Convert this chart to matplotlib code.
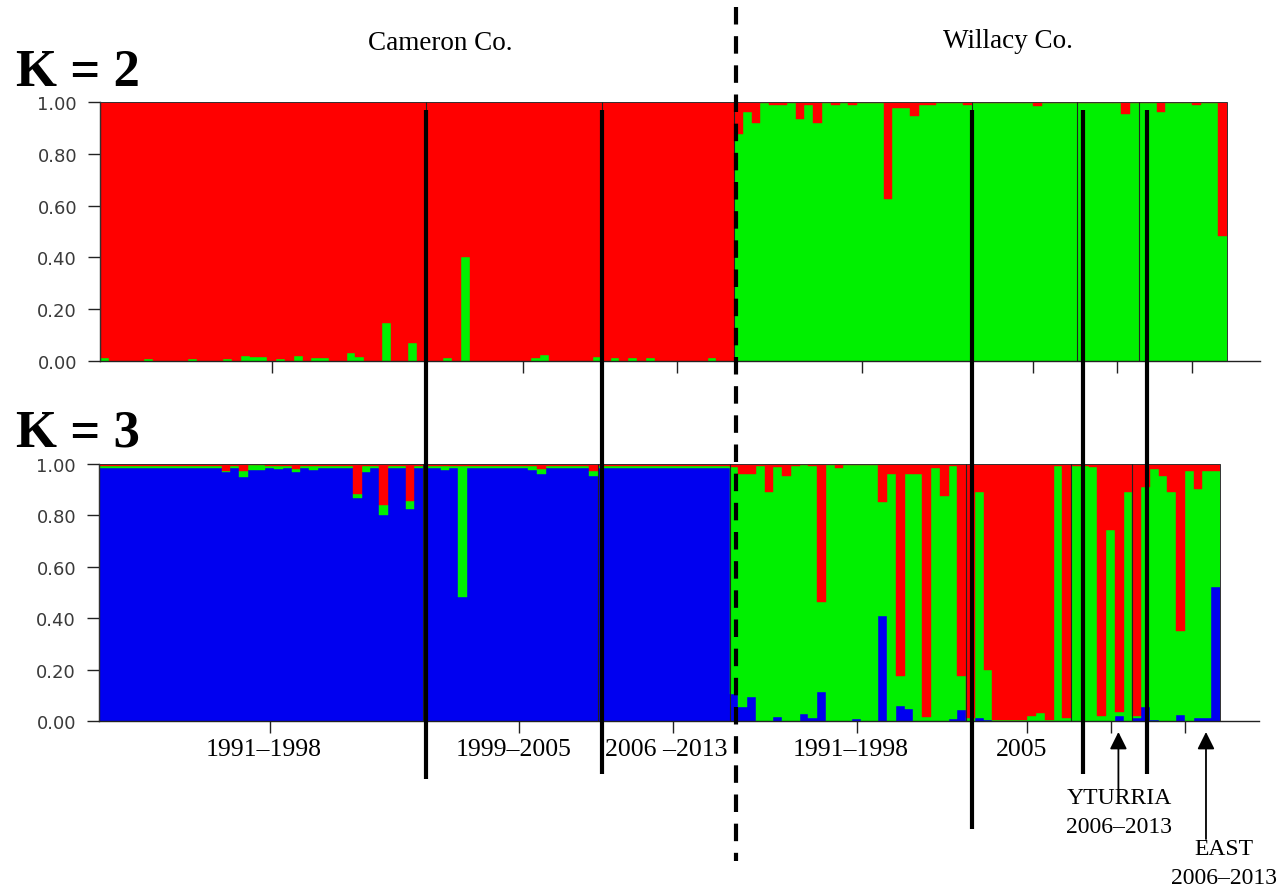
import numpy as np
import matplotlib

matplotlib.use("Agg")
import matplotlib.pyplot as plt
from matplotlib.lines import Line2D
from matplotlib.patches import Rectangle
from matplotlib.transforms import blended_transform_factory

RED = "#ff0000"
GREEN = "#00f000"
BLUE = "#0000f0"

GROUP_SIZES = [37, 20, 15, 27, 12, 7, 10]
GROUP_LABELS = [
    "1991\u20131998",
    "1999\u20132005",
    "2006 \u20132013",
    "1991\u20131998",
    "2005",
    "YTURRIA\n2006\u20132013",
    "EAST\n2006\u20132013",
]

# K = 2: membership in the "green" cluster (red = 1 - green)
k2_green_cam_91 = [0.010, 0, 0, 0, 0, 0.008, 0, 0, 0, 0, 0.008, 0, 0, 0, 0.008, 0,
                   0.020, 0.015, 0.015, 0, 0.008, 0, 0.020, 0, 0.010, 0.010, 0, 0,
                   0.030, 0.017, 0, 0, 0.146, 0, 0, 0.068, 0]
k2_green_cam_99 = [0, 0, 0.010, 0, 0.400, 0, 0, 0, 0, 0, 0, 0, 0.010, 0.025, 0, 0,
                   0, 0, 0, 0.015]
k2_green_cam_06 = [0, 0.010, 0, 0.010, 0, 0.010, 0, 0, 0, 0, 0, 0, 0.010, 0, 0]
k2_green_wil_91 = [0.876, 0.960, 0.920, 0.995, 0.990, 0.990, 0.995, 0.934, 0.988,
                   0.920, 0.995, 0.990, 0.995, 0.990, 0.997, 0.997, 0.997, 0.625,
                   0.976, 0.976, 0.947, 0.990, 0.990, 0.995, 0.995, 0.995, 0.990]
k2_green_wil_05 = [0.997, 0.995, 0.995, 0.997, 0.997, 0.995, 0.997, 0.983, 0.997,
                   0.995, 0.997, 0.997]
k2_green_yturria = [0.997, 0.997, 0.997, 0.995, 0.997, 0.954, 0.997]
k2_green_east = [0.997, 0.997, 0.960, 0.997, 0.997, 0.997, 0.990, 0.997, 0.997, 0.484]

# K = 3: blue and red memberships (green = remainder)
k3_blue_cam_91 = [0.983, 0.986, 0.986, 0.986, 0.986, 0.983, 0.986, 0.986, 0.986, 0.986,
                  0.983, 0.986, 0.986, 0.986, 0.970, 0.986, 0.948, 0.975, 0.975, 0.986,
                  0.980, 0.986, 0.967, 0.986, 0.978, 0.983, 0.986, 0.986, 0.986, 0.866,
                  0.968, 0.986, 0.800, 0.986, 0.986, 0.825, 0.986]
k3_red_cam_91 = [0.006, 0.006, 0.006, 0.006, 0.006, 0.006, 0.006, 0.006, 0.006, 0.006,
                 0.006, 0.006, 0.006, 0.006, 0.026, 0.006, 0.026, 0.005, 0.005, 0.006,
                 0.006, 0.006, 0.020, 0.006, 0.006, 0.006, 0.006, 0.006, 0.006, 0.117,
                 0.006, 0.006, 0.160, 0.006, 0.006, 0.143, 0.006]
k3_blue_cam_99 = [0.986, 0.986, 0.975, 0.986, 0.484, 0.986, 0.983, 0.986, 0.983, 0.986,
                  0.986, 0.986, 0.978, 0.960, 0.986, 0.983, 0.986, 0.986, 0.986, 0.955]
k3_red_cam_99 = [0.006, 0.006, 0.008, 0.006, 0.006, 0.006, 0.006, 0.006, 0.006, 0.006,
                 0.006, 0.006, 0.006, 0.020, 0.006, 0.006, 0.006, 0.006, 0.006, 0.026]
k3_blue_cam_06 = [0.986, 0.983, 0.986, 0.986, 0.986, 0.983, 0.986, 0.986, 0.986, 0.986,
                  0.986, 0.986, 0.983, 0.986, 0.986]
k3_red_cam_06 = [0.006] * 15
k3_blue_wil_91 = [0.105, 0.053, 0.092, 0, 0, 0.014, 0, 0, 0.027, 0.010, 0.114, 0, 0,
                  0, 0.008, 0, 0, 0.410, 0, 0.057, 0.047, 0, 0, 0, 0, 0.008, 0.044]
k3_red_wil_91 = [0.013, 0.039, 0.039, 0.006, 0.110, 0.013, 0.045, 0.006, 0.004, 0.006,
                 0.538, 0.004, 0.017, 0.004, 0.004, 0.004, 0.004, 0.149, 0.039, 0.824,
                 0.039, 0.039, 0.986, 0.017, 0.123, 0.006, 0.824]
k3_blue_wil_05 = [0, 0.010, 0.005, 0, 0, 0, 0, 0, 0, 0, 0, 0]
k3_red_wil_05 = [0.990, 0.110, 0.800, 0.995, 0.995, 0.995, 0.995, 0.980, 0.970, 0.995,
                 0.007, 0.990]
k3_blue_yturria = [0, 0, 0, 0, 0, 0.020, 0]
k3_red_yturria = [0.006, 0.006, 0.010, 0.980, 0.255, 0.965, 0.110]
k3_blue_east = [0.010, 0.055, 0.005, 0, 0, 0.025, 0, 0.010, 0.010, 0.520]
k3_red_east = [0.980, 0.090, 0.020, 0.045, 0.110, 0.650, 0.026, 0.097, 0.026, 0.026]

k2_green = np.concatenate([k2_green_cam_91, k2_green_cam_99, k2_green_cam_06,
                           k2_green_wil_91, k2_green_wil_05, k2_green_yturria,
                           k2_green_east])
k3_blue = np.concatenate([k3_blue_cam_91, k3_blue_cam_99, k3_blue_cam_06,
                          k3_blue_wil_91, k3_blue_wil_05, k3_blue_yturria, k3_blue_east])
k3_red = np.concatenate([k3_red_cam_91, k3_red_cam_99, k3_red_cam_06,
                         k3_red_wil_91, k3_red_wil_05, k3_red_yturria, k3_red_east])
k3_green = 1.0 - k3_blue - k3_red

n_ind = int(sum(GROUP_SIZES))
splits = np.cumsum(GROUP_SIZES)
starts = splits - np.asarray(GROUP_SIZES)
centers = (starts + splits) / 2.0
xpos = np.arange(n_ind) + 0.5

W, H = 1286, 895
fig = plt.figure(figsize=(W / 100, H / 100), dpi=100)
fig.patch.set_facecolor("white")


def px_axes(left, top, right, bottom):
    return fig.add_axes([left / W, 1 - bottom / H, (right - left) / W, (bottom - top) / H])


ax_top = px_axes(100, 103, 1260, 362)
ax_bot = px_axes(99, 465, 1259, 722)


def stacked(ax, layers):
    base = np.zeros(n_ind)
    for vals, color in layers:
        ax.bar(xpos, vals, width=1.0, bottom=base, color=color, edgecolor=color,
               linewidth=0.3, align="center")
        base = base + vals


stacked(ax_top, [(k2_green, GREEN), (1.0 - k2_green, RED)])
stacked(ax_bot, [(k3_blue, BLUE), (k3_green, GREEN), (k3_red, RED)])

for ax, bar_px in ((ax_top, 1127 / n_ind), (ax_bot, 1121 / n_ind)):
    ax.set_xlim(0, 1160 / bar_px)
    ax.set_ylim(0, 1)
    for side in ("top", "right"):
        ax.spines[side].set_visible(False)
    for side in ("left", "bottom"):
        ax.spines[side].set_linewidth(1.0)
        ax.spines[side].set_color("#222222")
    ax.set_yticks([0, 0.2, 0.4, 0.6, 0.8, 1.0])
    ax.set_yticklabels(["0.00", "0.20", "0.40", "0.60", "0.80", "1.00"],
                       family="DejaVu Sans", fontsize=13, color="#3a3a3a")
    ax.set_xticks(centers + 1)
    ax.set_xticklabels([])
    ax.tick_params(direction="out", length=8.5, width=1.0, color="#222222", pad=8)
    # outline of the bar block and thin population separators
    ax.add_patch(Rectangle((0, 0), n_ind, 1, fill=False, lw=0.7, ec="#333333", zorder=3))
    for s in splits[:-1]:
        ax.plot([s, s], [0, 1], color="#222222", lw=0.8, zorder=3)

# heavy dividers drawn across both panels
vtrans = blended_transform_factory(ax_top.transData, fig.transFigure)
divider_x = [splits[0], splits[1], splits[3], splits[4] + 0.6, splits[5] + 0.9]
divider_bottom = [780, 775, 830, 775, 775]
for x, yb in zip(divider_x, divider_bottom):
    fig.add_artist(Line2D([x, x], [1 - 111 / H, 1 - yb / H], transform=vtrans,
                          color="black", lw=3.0, solid_capstyle="butt"))
fig.add_artist(Line2D([splits[2] + 0.2] * 2, [1 - 8 / H, 1 - 862 / H], transform=vtrans,
                      color="black", lw=3.0, linestyle=(0, (4.2, 2.8)), dash_capstyle="butt"))

serif = "Liberation Serif"
fig.text(78 / W, 1 - 86 / H, "K = 2", family=serif, fontweight="bold", fontsize=38,
         ha="center", va="baseline")
fig.text(78 / W, 1 - 447 / H, "K = 3", family=serif, fontweight="bold", fontsize=38,
         ha="center", va="baseline")
fig.text(440 / W, 1 - 43 / H, "Cameron Co.", family=serif, fontsize=19.5,
         ha="center", va="center")
fig.text(1008 / W, 1 - 42 / H, "Willacy Co.", family=serif, fontsize=19.5,
         ha="center", va="center")

btrans = blended_transform_factory(ax_bot.transData, fig.transFigure)
label_x = list(centers[:5] + 0.3) + [centers[5] + 2.0, centers[6] + 5.5]
label_y = [750, 750, 750, 750, 750, 813, 864]
label_size = [18.5, 18.5, 18.5, 18.5, 18.5, 17, 17]
for x, y, fs, text in zip(label_x, label_y, label_size, GROUP_LABELS):
    ax_bot.text(x, 1 - y / H, text, transform=btrans, family=serif, fontsize=fs,
                ha="center", va="center", linespacing=1.45)

# arrows pointing at single individuals
for x, y0 in ((116.4, 790), (126.4, 840)):
    ax_bot.annotate("", xy=(x, 1 - 733 / H), xycoords=btrans,
                    xytext=(x, 1 - y0 / H), textcoords=btrans,
                    arrowprops=dict(arrowstyle="-|>", color="black", lw=1.3,
                                    mutation_scale=26, shrinkA=0, shrinkB=0))

fig.savefig("out.png", dpi=100, facecolor="white")
